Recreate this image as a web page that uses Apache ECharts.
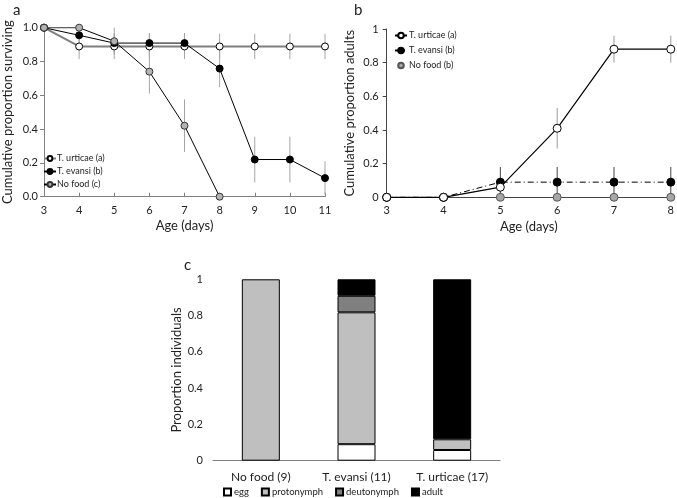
<!DOCTYPE html>
<html><head><meta charset="utf-8">
<script src="https://cdn.jsdelivr.net/npm/echarts@6/dist/echarts.min.js"></script>
<style>html,body{margin:0;padding:0;background:#fff}#c{width:677px;height:498px}</style>
</head><body><div id="c"></div>
<script>
// Panel a: survival
const daysA = [3,4,5,6,7,8,9,10,11];
const survUrticae = [1,0.889,0.889,0.889,0.889,0.889,0.889,0.889,0.889];
const survUrticaeErr = [0,0.075,0.075,0.075,0.075,0.075,0.075,0.075,0.075];
const survEvansi = [1,0.955,0.909,0.909,0.909,0.758,0.22,0.22,0.11];
const survEvansiErr = [0,0.045,0.06,0.06,0.06,0.11,0.135,0.135,0.1];
const daysNoFoodA = [3,4,5,6,7,8];
const survNoFood = [1,1,0.92,0.74,0.42,0];
const survNoFoodErr = [0,0,0.08,0.13,0.155,0];
// Panel b: adults
const daysB = [3,4,5,6,7,8];
const adultUrticae = [0,0,0.06,0.41,0.88,0.88];
const adultUrticaeErr = [0,0,0.057,0.12,0.08,0.08];
const adultEvansi = [0,0,0.09,0.09,0.09,0.09];
const adultEvansiErr = [0,0,0.09,0.09,0.09,0.09];
const adultNoFood = [0,0,0,0,0,0];
// Panel c: stage proportions
const groupsC = ['No food (9)','T. evansi (11)','T. urticae (17)'];
const stageEgg = [0,0.091,0.059];
const stageProto = [1,0.727,0.059];
const stageDeuto = [0,0.091,0];
const stageAdult = [0,0.091,0.882];

const FONT = 'Lato';
const axisCol = '#808080';
function pairs(xs, ys){ return xs.map((x,i)=>[x, ys[i]]); }
function nz(arr){ return arr.map(v => v === 0 ? '-' : v); }
function errData(xs, ys, es){ return xs.map((x,i)=>[x, ys[i]-es[i], Math.min(ys[i]+es[i], 1.0)]).filter((d,i)=>es[i]>0); }
function errSeries(idx, data, color){
  return {type:'custom', xAxisIndex:idx, yAxisIndex:idx, z:1, silent:true, data:data,
    renderItem:function(params, api){
      const p1 = api.coord([api.value(0), Math.max(api.value(1),0)]);
      const p2 = api.coord([api.value(0), api.value(2)]);
      return {type:'line', shape:{x1:p1[0],y1:p1[1],x2:p2[0],y2:p2[1]}, style:{stroke:color, lineWidth:1}};
    }};
}
const tickLab = {fontFamily:FONT, fontSize:11, color:'#222'};
const nameSty = {fontFamily:FONT, fontSize:13, color:'#222'};

const chart = echarts.init(document.getElementById('c'));
chart.setOption({
  animation:false,
  title:[
    {text:'a', left:8, top:-2, textStyle:{fontFamily:FONT, fontSize:15, fontWeight:'normal', color:'#222'}},
    {text:'b', left:349, top:-2, textStyle:{fontFamily:FONT, fontSize:15, fontWeight:'normal', color:'#222'}},
    {text:'c', left:179, top:253, textStyle:{fontFamily:FONT, fontSize:15, fontWeight:'normal', color:'#222'}}
  ],
  grid:[
    {left:40, top:27.7, width:285, height:169, containLabel:false},
    {left:386.7, top:29, width:287.3, height:168.3, containLabel:false},
    {left:213, top:279.3, width:287, height:181.4, containLabel:false}
  ],
  legend:[
    {orient:'vertical', left:43, top:154, itemGap:4, itemWidth:12, itemHeight:6, padding:0,
     textStyle:{fontFamily:FONT, fontSize:9, color:'#222', padding:[0,0,0,-4]},
     data:['T. urticae (a)','T. evansi (b)','No food (c)']},
    {orient:'vertical', left:394, top:31, itemGap:6, itemWidth:12, itemHeight:7, padding:0,
     textStyle:{fontFamily:FONT, fontSize:9, color:'#222', padding:[0,0,0,-3]},
     data:['T. urticae (a) ','T. evansi (b) ','No food (b)']},
    {orient:'horizontal', left:223, top:487, itemGap:12, itemWidth:7, itemHeight:7, icon:'rect', padding:0,
     textStyle:{fontFamily:FONT, fontSize:9.5, color:'#222', padding:[0,0,0,-2]},
     data:['egg','protonymph','deutonymph','adult']}
  ],
  xAxis:[
    {gridIndex:0, type:'value', min:3, max:11, interval:1, name:'Age (days)', nameLocation:'middle', nameGap:23, nameTextStyle:nameSty,
     axisLine:{lineStyle:{color:axisCol}}, axisTick:{inside:true, length:4, lineStyle:{color:axisCol}}, splitLine:{show:false}, axisLabel:tickLab},
    {gridIndex:1, type:'value', min:3, max:8, interval:1, name:'Age (days)', nameLocation:'middle', nameGap:23, nameTextStyle:nameSty,
     axisLine:{lineStyle:{color:'#444'}}, axisTick:{length:3, lineStyle:{color:'#444'}}, splitLine:{show:false}, axisLabel:tickLab},
    {gridIndex:2, type:'category', data:groupsC, axisLine:{lineStyle:{color:axisCol}}, axisTick:{show:false},
     axisLabel:Object.assign({}, tickLab, {fontSize:12, margin:10})}
  ],
  yAxis:[
    {gridIndex:0, type:'value', min:0, max:1, interval:0.2, name:'Cumulative proportion surviving', nameLocation:'middle', nameGap:30, nameTextStyle:nameSty,
     axisLine:{show:true, lineStyle:{color:axisCol}}, axisTick:{show:true, length:4, lineStyle:{color:axisCol}}, splitLine:{show:false},
     axisLabel:Object.assign({}, tickLab, {margin:6, formatter:v=>v.toFixed(1)})},
    {gridIndex:1, type:'value', min:0, max:1, interval:0.2, name:'Cumulative proportion adults', nameLocation:'middle', nameGap:30, nameTextStyle:nameSty,
     axisLine:{show:true, lineStyle:{color:'#444'}}, axisTick:{show:true, length:4, lineStyle:{color:'#444'}}, splitLine:{show:false},
     axisLabel:Object.assign({}, tickLab, {margin:8})},
    {gridIndex:2, type:'value', min:0, max:1, interval:0.2, name:'Proportion individuals', nameLocation:'middle', nameGap:24, nameTextStyle:nameSty,
     axisLine:{show:false}, axisTick:{show:false}, splitLine:{show:false},
     axisLabel:Object.assign({}, tickLab, {margin:10})}
  ],
  series:[
    errSeries(0, errData(daysA, survUrticae, survUrticaeErr), '#a6a6a6'),
    errSeries(0, errData(daysA, survEvansi, survEvansiErr), '#a6a6a6'),
    errSeries(0, errData(daysNoFoodA, survNoFood, survNoFoodErr), '#a6a6a6'),
    {name:'T. urticae (a)', type:'line', xAxisIndex:0, yAxisIndex:0, z:3, data:pairs(daysA, survUrticae),
     symbol:'circle', symbolSize:7, lineStyle:{color:'#7f7f7f', width:2}, itemStyle:{color:'#fff', borderColor:'#000', borderWidth:1}},
    {name:'T. evansi (b)', type:'line', xAxisIndex:0, yAxisIndex:0, z:4, data:pairs(daysA, survEvansi),
     symbol:'circle', symbolSize:7, lineStyle:{color:'#000', width:1}, itemStyle:{color:'#000', borderColor:'#000', borderWidth:1}},
    {name:'No food (c)', type:'line', xAxisIndex:0, yAxisIndex:0, z:5, data:pairs(daysNoFoodA, survNoFood),
     symbol:'circle', symbolSize:7, lineStyle:{color:'#000', width:1}, itemStyle:{color:'#b3b3b3', borderColor:'#333', borderWidth:1}},

    errSeries(1, errData(daysB, adultUrticae, adultUrticaeErr), '#999'),
    errSeries(1, errData(daysB, adultEvansi, adultEvansiErr), '#444'),
    {name:'No food (b)', type:'line', xAxisIndex:1, yAxisIndex:1, z:3, data:pairs(daysB, adultNoFood),
     symbol:'circle', symbolSize:8, lineStyle:{width:0}, itemStyle:{color:'#a6a6a6', borderColor:'#555', borderWidth:1}},
    {name:'T. evansi (b) ', type:'line', xAxisIndex:1, yAxisIndex:1, z:4, data:pairs(daysB, adultEvansi),
     symbol:'circle', symbolSize:8, lineStyle:{color:'#000', width:1, type:[6,3,1,3]}, itemStyle:{color:'#000', borderColor:'#000', borderWidth:1}},
    {name:'T. urticae (a) ', type:'line', xAxisIndex:1, yAxisIndex:1, z:5, data:pairs(daysB, adultUrticae),
     symbol:'circle', symbolSize:8, lineStyle:{color:'#000', width:1.2}, itemStyle:{color:'#fff', borderColor:'#000', borderWidth:1}},

    {name:'egg', type:'bar', stack:'s', xAxisIndex:2, yAxisIndex:2, barWidth:38, data:nz(stageEgg),
     itemStyle:{color:'#fff', borderColor:'#000', borderWidth:1}},
    {name:'protonymph', type:'bar', stack:'s', xAxisIndex:2, yAxisIndex:2, barWidth:38, data:nz(stageProto),
     itemStyle:{color:'#bfbfbf', borderColor:'#000', borderWidth:1}},
    {name:'deutonymph', type:'bar', stack:'s', xAxisIndex:2, yAxisIndex:2, barWidth:38, data:nz(stageDeuto),
     itemStyle:{color:'#808080', borderColor:'#000', borderWidth:1}},
    {name:'adult', type:'bar', stack:'s', xAxisIndex:2, yAxisIndex:2, barWidth:38, data:nz(stageAdult),
     itemStyle:{color:'#000', borderColor:'#000', borderWidth:1}}
  ]
});
</script></body></html>
